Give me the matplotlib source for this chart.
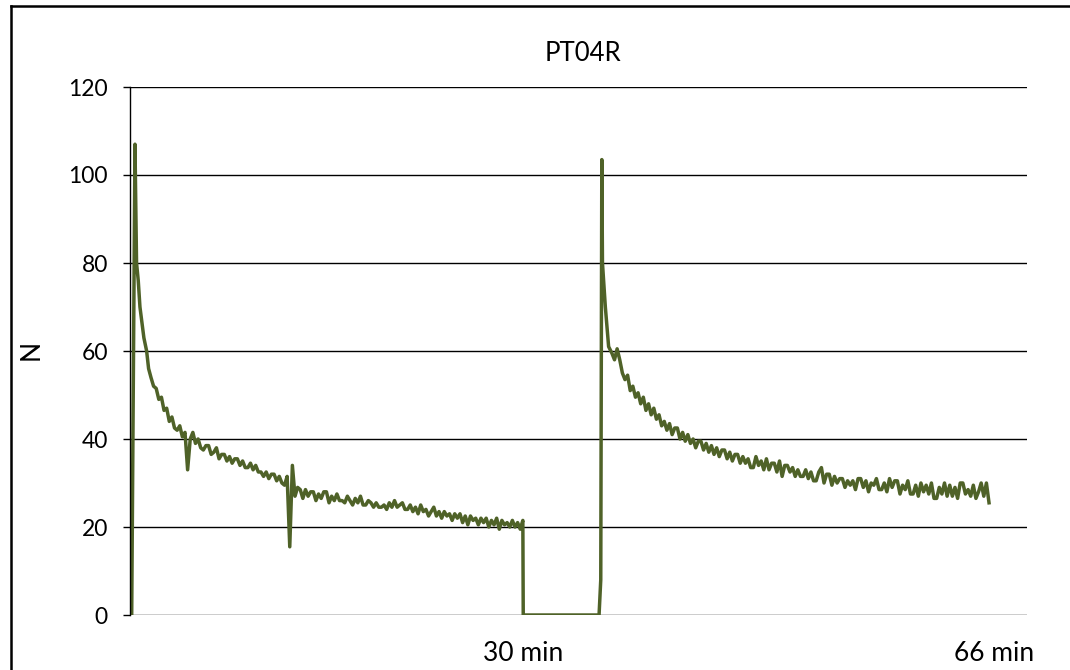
import numpy as np
import matplotlib
matplotlib.use("Agg")
import matplotlib.pyplot as plt
from matplotlib.lines import Line2D

# first loading: ramp up to the peak and the fast relaxation
head1_t = [0.0, 0.13, 0.38, 0.5, 0.63, 0.76, 0.89, 1.06, 1.27, 1.42]
head1_n = [0, 0, 107, 80, 76, 70, 67, 63, 60, 56]

# first hold, sampled every 0.2 min from 1.6 min
hold1_start = 1.6
hold1_n = [
    54, 52, 51.5, 49, 49.5, 46.5, 47, 44, 45, 42.5,
    42, 43, 40.5, 41.5, 33, 40, 41.5, 39, 40, 38,
    37.5, 38.5, 38.5, 36.5, 37, 38, 35.5, 36.5, 36.5, 35,
    36, 34.5, 35.5, 35.5, 34, 35, 33.5, 33.5, 34.5, 33,
    34, 32.5, 32.5, 31.5, 32.5, 31, 32, 32, 30.5, 31.5,
    30, 29.5, 31.5, 15.5, 34, 27, 29, 28.5, 26.5, 28.5,
    27, 28, 28, 26, 27.5, 26.5, 28, 28, 25.5, 27,
    26, 27.5, 26, 26, 25.5, 27, 26, 25, 26.5, 25.5,
    27, 25, 25, 26, 25.5, 24.5, 25.5, 24.5, 24.5, 25,
    24, 25.5, 24.5, 26, 24.5, 25, 25.5, 24, 24, 25,
    23.5, 24.5, 23, 25, 23.5, 24, 22.5, 23.5, 24.5, 22.5,
    23.5, 22, 23.5, 22.5, 23, 21.5, 23, 22, 23, 21,
    22.5, 20.5, 22.5, 21.5, 22, 20.5, 22, 21, 22, 20,
    21.5, 20.5, 22, 19.5, 21.5, 20.5, 21, 20, 21.5, 20,
    21, 19.5, 21.5,
]

# unloaded pause, then second loading
pause_t = [30.03, 35.82, 35.95, 36.03, 36.08, 36.3, 36.55]
pause_n = [0, 0, 8, 103.5, 80, 70, 61]

# second hold, sampled every 0.2 min from 36.8 min
hold2_start = 36.8
hold2_n = [
    59.5, 58, 60.5, 58, 55, 53.5, 54.5, 51, 52, 49.5,
    50.5, 48, 49.5, 46.5, 48, 45.5, 47, 44.5, 45.5, 43,
    44, 42, 43.5, 41, 42.5, 42.5, 40, 41.5, 39.5, 41,
    39, 40, 38, 39.5, 39.5, 37.5, 39, 37, 38.5, 36.5,
    38, 36, 37.5, 37.5, 35.5, 37, 35, 36.5, 36.5, 34.5,
    36, 34.5, 35.5, 33.5, 33.5, 36, 34, 35, 33, 35.5,
    33, 34.5, 34.5, 32.5, 35, 31.5, 34, 34, 32.5, 33.5,
    31.5, 33, 31.5, 31.5, 33, 31, 32.5, 30.5, 30.5, 32.5,
    33.5, 30, 32, 32, 29.5, 31.5, 30, 31, 31, 29,
    30.5, 29.5, 30.5, 28.5, 31, 31, 29, 30.5, 28, 30,
    29.5, 31, 28.5, 28.5, 30, 28, 31, 29, 30.5, 30.5,
    27.5, 29.5, 28.5, 30.5, 27.5, 27.5, 29.5, 27, 30, 28,
    29.5, 27.5, 30, 26.5, 26.5, 29, 27.5, 30, 27, 29.5,
    27, 29, 26.5, 30, 30, 27.5, 28.5, 27, 29.5, 26.5,
    28, 30, 27, 30, 25.5,
]

sample_dt = 0.2
hold1_t = hold1_start + sample_dt * np.arange(len(hold1_n))
hold2_t = hold2_start + sample_dt * np.arange(len(hold2_n))

t = np.concatenate([head1_t, hold1_t, pause_t, hold2_t])
force = np.concatenate([head1_n, hold1_n, pause_n, hold2_n])

xtick_pos = [30, 66]
xtick_labels = ["30 min", "66 min"]
yticks = [0, 20, 40, 60, 80, 100, 120]

plt.rcParams["font.family"] = ["Lato", "DejaVu Sans"]

fig = plt.figure(figsize=(10.7, 6.7), dpi=100)
ax = fig.add_axes([130 / 1070, 1 - 615 / 670, 897 / 1070, 528 / 670])

ax.plot(t, force, color="#4f6228", lw=2.5)

ax.set_xlim(0, 68.5)
ax.set_ylim(0, 120)
ax.set_yticks(yticks)
ax.set_xticks(xtick_pos)
ax.set_xticklabels(xtick_labels)

ax.grid(axis="y", color="black", lw=1.0)
ax.set_axisbelow(True)
for side in ["top", "right", "bottom"]:
    ax.spines[side].set_visible(False)
ax.spines["left"].set_color("black")
ax.spines["left"].set_linewidth(1.0)

ax.tick_params(axis="y", length=5, width=1.0, pad=11, labelsize=16.5)
ax.tick_params(axis="x", length=0, pad=19, labelsize=19)

ax.set_title("PT04R", fontsize=18.5, pad=19, x=(583 - 130) / 897)
ax.set_ylabel("N", fontsize=19)
ax.yaxis.set_label_coords((44 - 130) / 897, (615 - 350) / 528)

# outer frame, only the top and left edges fall inside the image
fx = 10.5 / 1070
fy = 1 - 5.5 / 670
fig.add_artist(Line2D([fx, fx], [0, fy], color="black", lw=1.8))
fig.add_artist(Line2D([fx, 1], [fy, fy], color="black", lw=1.8))

fig.savefig("out.png", dpi=100, facecolor="white")
